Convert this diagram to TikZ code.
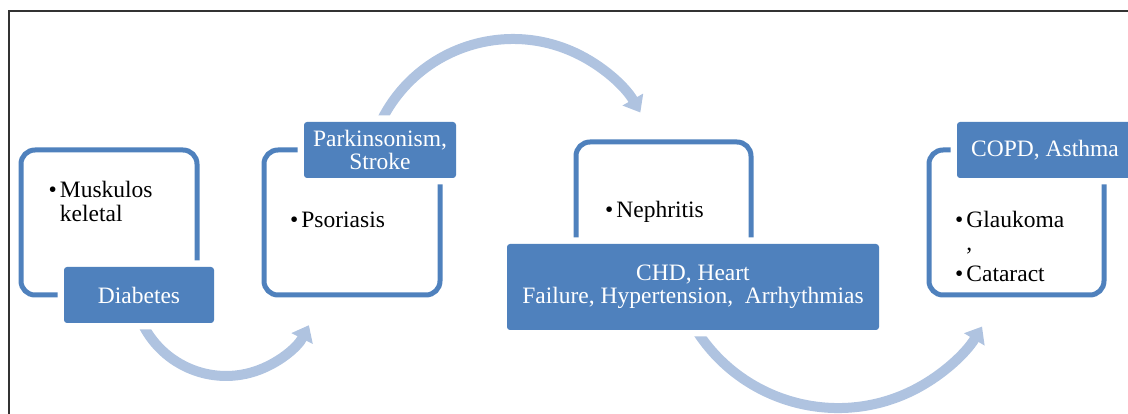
\documentclass[tikz,border=0pt]{standalone}
\usepackage{fontspec}
\setmainfont{Liberation Serif}
\usetikzlibrary{arrows.meta}
\definecolor{tagblue}{HTML}{4F81BD}
\definecolor{flowblue}{HTML}{AFC3E0}

\begin{document}
\begin{tikzpicture}[x=1pt, y=1pt,
    font=\fontsize{23.5}{23}\selectfont,
    card/.style={draw=tagblue, line width=5pt, rounded corners=14pt, minimum width=176pt, minimum height=145pt},
    tag/.style={fill=tagblue, text=white, rounded corners=3pt, align=center, minimum height=56pt, preaction={draw=white, line width=13pt}},
    item/.style={anchor=base west, inner sep=0pt},
    flow/.style={draw=flowblue, line width=10pt, -{Triangle[length=15pt, width=23pt]}}]
  \useasboundingbox (0,0) rectangle (1128,414);
  \clip (0,0) rectangle (1128,414);

  % frame
  \draw[black!80, line width=2.5pt] (9,-5) -- (9,403) -- (1135,403);

  % cycle arrows
  \coordinate (arcA) at (137.6,102.3);
  \coordinate (arcB) at (379.8,290.1);
  \coordinate (arcC) at (689.7,95.1);
  \draw[flow] (arcA) arc[start angle=198, end angle=333, radius=93];
  \draw[flow] (arcB) arc[start angle=155, end angle=30, radius=147];
  \draw[flow] (arcC) arc[start angle=208, end angle=329, radius=168];

  % cards
  \node[card] (card1) at (109,191.5) {};
  \node[card] (card2) at (352,191.5) {};
  \node[card, minimum width=175pt] (card3) at (663.5,199.5) {};
  \node[card, minimum width=175pt] (card4) at (1016.5,191.5) {};

  % tags
  \node[tag, minimum width=150pt] (diab) at (139,119) {Diabetes};
  \node[tag, minimum width=152pt] (park) at (380,264) {Parkinsonism,\\Stroke};
  \node[tag, minimum width=372pt, minimum height=86pt] (chd) at (693,127) {CHD, Heart\\Failure, Hypertension,~ Arrhythmias};
  \node[tag, minimum width=176pt] (copd) at (1045,264) {COPD, Asthma};

  % items
  \node[item] (musk) at (48.5,216) {\begin{tabular}[t]{@{}l@{\hspace{3pt}}l@{}}\textbullet & Muskulos\\ & keletal\end{tabular}};
  \node[item] (psor) at (290,186) {\begin{tabular}[t]{@{}l@{\hspace{3pt}}l@{}}\textbullet & Psoriasis\end{tabular}};
  \node[item] (neph) at (605,196) {\begin{tabular}[t]{@{}l@{\hspace{3pt}}l@{}}\textbullet & Nephritis\end{tabular}};
  \node[item] (glau) at (955,186) {\begin{tabular}[t]{@{}l@{\hspace{3pt}}l@{}}\textbullet & Glaukoma\\ & ,\\[8pt] \textbullet & Cataract\end{tabular}};
\end{tikzpicture}
\end{document}
